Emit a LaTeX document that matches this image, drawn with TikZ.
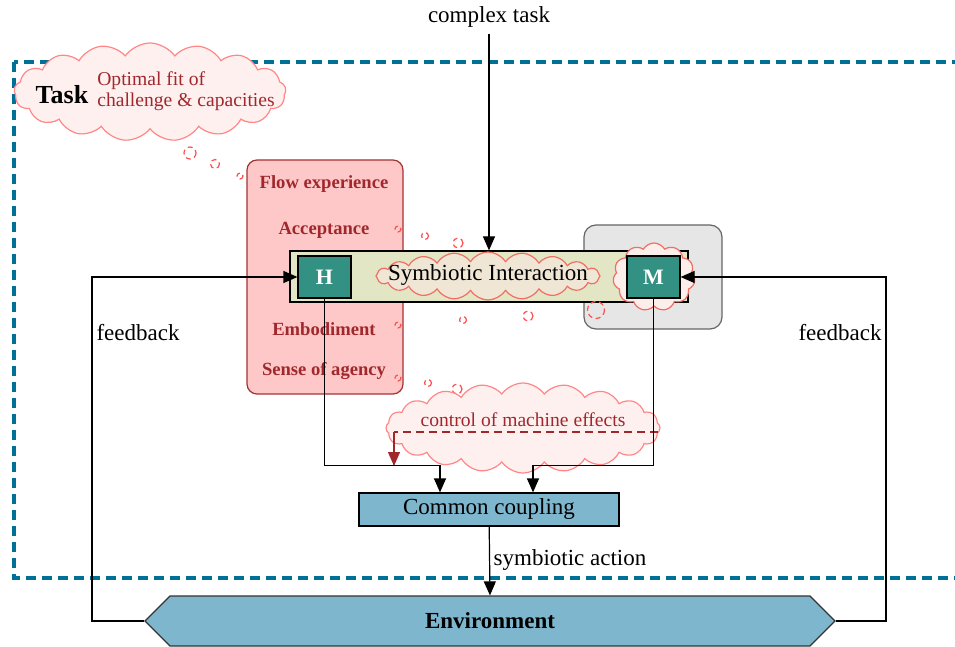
\documentclass[tikz,border=0pt]{standalone}
\usepackage{fontspec}
\setmainfont{Liberation Serif}
\usetikzlibrary{shapes.symbols,shapes.geometric,arrows.meta}
\definecolor{taskblue}{RGB}{0,112,150}
\definecolor{pinkfill}{RGB}{255,200,200}
\definecolor{pinkdraw}{RGB}{165,50,50}
\definecolor{labelred}{RGB}{160,40,45}
\definecolor{cloudfill}{RGB}{255,240,240}
\definecolor{clouddraw}{RGB}{255,135,135}
\definecolor{bubred}{RGB}{255,80,80}
\definecolor{barfill}{RGB}{226,230,196}
\definecolor{tealbox}{RGB}{50,145,130}
\definecolor{couplefill}{RGB}{125,182,205}
\definecolor{grayfill}{RGB}{230,230,230}
\definecolor{siclfill}{RGB}{240,230,214}
\definecolor{siclline}{RGB}{240,110,100}
\tikzset{
  arr/.style={-{Triangle[length=7pt,width=6pt]},line width=0.6pt},
  boxlabel/.style={font=\fontsize{9.3}{11}\selectfont\bfseries,text=labelred},
  cloudnode/.style={cloud,cloud ignores aspect,draw=clouddraw,fill=cloudfill,line width=0.6pt,inner sep=0pt},
  hm/.style={draw=black,fill=tealbox,text=white,font=\fontsize{11}{12}\selectfont\bfseries,minimum width=26.5pt,minimum height=21pt,inner sep=0pt,line width=0.6pt},
  bubble/.style={draw=bubred,dash pattern=on 2.5pt off 1.8pt,line width=0.6pt},
  every node/.style={font=\fontsize{11.5}{13.5}\selectfont}
}
\begin{document}
\begin{tikzpicture}[x=0.5pt,y=-0.5pt]
\useasboundingbox (0,0) rectangle (955,647);
% task frame
\draw[taskblue,line width=1.8pt,dash pattern=on 5pt off 3pt] (14,62) rectangle (980,578);
% task cloud
\node[cloudnode,cloud puffs=17,cloud puff arc=110,minimum width=136pt,minimum height=49pt] (tcl) at (150,92) {};
\node[font=\fontsize{13}{15}\selectfont\bfseries] (task) at (62,95) {Task};
\node[text=labelred,align=left,font=\fontsize{9.8}{10.5}\selectfont] (fit) at (186,91) {Optimal fit of\\challenge \& capacities};
\draw[bubble] (190,153) circle (6);
\draw[bubble] (215,164) circle (4.5);
\draw[bubble] (240,176) circle (3);
% pink box
\node[draw=pinkdraw,fill=pinkfill,rounded corners=5pt,minimum width=78pt,minimum height=117pt,line width=0.6pt] (flow) at (325,277) {};
\node[boxlabel] (fe) at (324,184) {Flow experience};
\node[boxlabel] (acc) at (324,230) {Acceptance};
\node[boxlabel] (emb) at (324,329) {Embodiment};
\node[boxlabel] (soa) at (324,371) {Sense of agency};
% gray box
\node[draw=black!60,fill=grayfill,rounded corners=6pt,minimum width=69pt,minimum height=52pt,line width=0.6pt] (gray) at (653,277) {};
% bar
\node[draw=black,fill=barfill,minimum width=199pt,minimum height=25.5pt,line width=0.6pt,inner sep=0pt] (bar) at (489,276.5) {};
\node[cloud,cloud ignores aspect,cloud puffs=20,cloud puff arc=115,draw=siclline,fill=siclfill,line width=0.6pt,minimum width=112pt,minimum height=24pt,inner sep=0pt] (sicl) at (488,276) {};
\node[font=\fontsize{11.5}{13}\selectfont] (si) at (488,275) {Symbiotic Interaction};
\node[cloud,cloud ignores aspect,cloud puffs=11,cloud puff arc=120,draw=siclline,fill=cloudfill!80!siclfill,line width=0.6pt,minimum width=41pt,minimum height=34pt,inner sep=0pt] (mcl) at (654,277) {};
\node[hm] (H) at (324.5,277) {H};
\node[hm] (M) at (653.5,277) {M};
% bubbles
\draw[bubble] (398,229) circle (3);
\draw[bubble] (425,236) circle (3.5);
\draw[bubble] (458,243) circle (5);
\draw[bubble] (398,325) circle (3);
\draw[bubble] (463,320) circle (3.5);
\draw[bubble] (528,316) circle (5);
\draw[bubble] (596,310) circle (8.5);
\draw[bubble] (398,378) circle (3);
\draw[bubble] (428,383) circle (3.5);
\draw[bubble] (457,389) circle (5);
% control cloud
\node[cloudnode,cloud puffs=20,cloud puff arc=110,minimum width=137pt,minimum height=45pt] (ccl) at (523,428) {};
\node[text=labelred,font=\fontsize{9.8}{11}\selectfont] (cme) at (523,420) {control of machine effects};
\coordinate (cmA) at (658,432);
\coordinate (cmB) at (394,432);
\coordinate (cmC) at (394,466);
\draw[labelred,dash pattern=on 4pt off 2.5pt,line width=0.6pt] (cmA) -- (cmB);
\draw[labelred,line width=0.6pt,-{Triangle[length=7pt,width=6pt]}] (cmB) -- (cmC);
% coupling
\node[draw=black,fill=couplefill,minimum width=130pt,minimum height=16.5pt,line width=0.6pt,inner sep=0pt] (cc) at (489,509.5) {Common coupling};
% environment
\node[signal,signal to=west and east,signal pointer angle=90,draw=black!80,fill=couplefill,minimum width=345pt,minimum height=25pt,inner sep=0pt,line width=0.6pt,font=\fontsize{11.5}{12}\selectfont\bfseries] (env) at (490,621) {Environment};
% complex task
\node (ct) at (489,17) {complex task};
\draw[arr] (ct) -- (bar.north);
\draw[arr] (cc) -- (env.north);
\node (sa) at (570,560) {symbiotic action};
% H and M to coupling
\draw[arr] (H.south) |- ([xshift=-24.5pt,yshift=13.5pt]cc.north) -- ([xshift=-24.5pt]cc.north);
\draw[arr] (M.south) |- ([xshift=22pt,yshift=13.5pt]cc.north) -- ([xshift=22pt]cc.north);
% feedback
\coordinate (fbL) at (92,621);
\coordinate (fbR) at (886,621);
\draw[arr] (env.west) -- (fbL) |- (H.west);
\draw[arr] (env.east) -- (fbR) |- (M.east);
\node (fl) at (138,333) {feedback};
\node (fr) at (840,333) {feedback};
\end{tikzpicture}
\end{document}
